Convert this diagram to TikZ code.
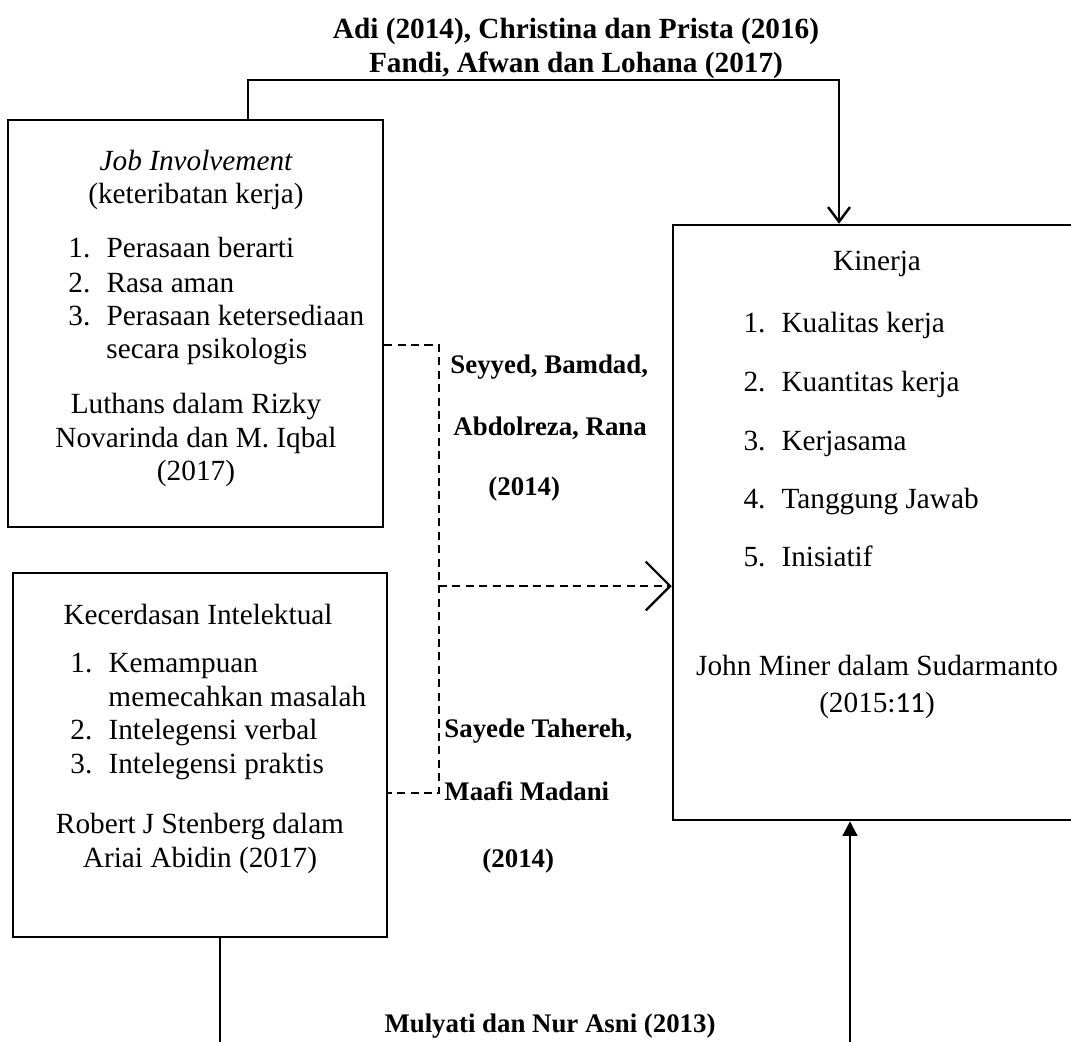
\documentclass[tikz,border=0pt]{standalone}
\usepackage{fontspec}
\setmainfont{Liberation Serif}
\newfontfamily\calibrifont{Carlito}
\usetikzlibrary{arrows.meta}

\newcommand{\numbox}[1]{\makebox[15.6pt][l]{#1}}

\begin{document}
\begin{tikzpicture}[x=0.41pt,y=-0.41pt,
  every node/.style={font=\fontsize{12}{14}\selectfont,inner sep=0pt},
  box/.style={draw,line width=1pt},
  line/.style={anchor=base},
  item/.style={anchor=base west},
  heading/.style={font=\fontsize{12}{14}\selectfont\bfseries},
  citation/.style={font=\fontsize{11}{13}\selectfont\bfseries},
  link/.style={line width=1pt},
  dashlink/.style={line width=0.9pt,dash pattern=on 3.3pt off 2.2pt}
]
\clip (0,0) rectangle (1071,1041);

% boxes
\node[box,minimum width=153.75pt,minimum height=166.9pt] (JobBox) at (195.5,323.5) {};
\node[box,minimum width=153.3pt,minimum height=149.2pt] (IntBox) at (200,755) {};
\node[box,minimum width=166.9pt,minimum height=244pt] (KinBox) at (876.5,522.5) {};

% job involvement
\node[line] (JobTitle) at (196,170) {\itshape Job Involvement};
\node[line] (JobSub) at (196,203) {(keteribatan kerja)};
\node[item] (JobA) at (68,257) {\numbox{1.}Perasaan berarti};
\node[item] (JobB) at (68,292) {\numbox{2.}Rasa aman};
\node[item] (JobC) at (68,325) {\numbox{3.}Perasaan ketersediaan};
\node[item] (JobC2) at (106,358) {secara psikologis};
\node[line] (JobRefA) at (196,413) {Luthans dalam Rizky};
\node[line] (JobRefB) at (196,447) {Novarinda dan M. Iqbal};
\node[line] (JobRefC) at (196,480) {(2017)};

% kecerdasan intelektual
\node[line] (IntTitle) at (198,624) {Kecerdasan Intelektual};
\node[item] (IntA) at (70,672) {\numbox{1.}Kemampuan};
\node[item] (IntA2) at (108,706) {memecahkan masalah};
\node[item] (IntB) at (70,739) {\numbox{2.}Intelegensi verbal};
\node[item] (IntC) at (70,773) {\numbox{3.}Intelegensi praktis};
\node[line] (IntRefA) at (200,833) {Robert J Stenberg dalam};
\node[line] (IntRefB) at (200,867) {Ariai Abidin (2017)};

% kinerja
\node[line] (KinTitle) at (877,270) {Kinerja};
\node[item] (KinA) at (743,332) {\numbox{1.}Kualitas kerja};
\node[item] (KinB) at (743,391) {\numbox{2.}Kuantitas kerja};
\node[item] (KinC) at (743,450) {\numbox{3.}Kerjasama};
\node[item] (KinD) at (743,508) {\numbox{4.}Tanggung Jawab};
\node[item] (KinE) at (743,566) {\numbox{5.}Inisiatif};
\node[line] (KinRefA) at (877,675) {John Miner dalam Sudarmanto};
\node[line] (KinRefB) at (877,712) {(2015{\calibrifont :11})};

% citations
\node[line,heading] (TopCiteA) at (576,38) {Adi (2014), Christina dan Prista (2016)};
\node[line,heading] (TopCiteB) at (576,72) {Fandi, Afwan dan Lohana (2017)};
\node[item,citation] (MidCiteA) at (450,373) {Seyyed, Bamdad,};
\node[item,citation] (MidCiteB) at (453,435) {Abdolreza, Rana};
\node[item,citation] (MidCiteC) at (488,495) {(2014)};
\node[item,citation] (LowCiteA) at (444,737) {Sayede Tahereh,};
\node[item,citation] (LowCiteB) at (444,800) {Maafi Madani};
\node[item,citation] (LowCiteC) at (482,867) {(2014)};
\node[line,citation] (BotCite) at (550,1032) {Mulyati dan Nur Asni (2013)};

% connectors
\coordinate (TopLeft) at (248,80);
\coordinate (TopRight) at (839,80);
\draw[link,-{Straight Barb[length=6pt,width=9pt]}]
  (TopLeft |- JobBox.north) -- (TopLeft) -- (TopRight) -- (TopRight |- KinBox.north);

\coordinate (DashTop) at (439,345);
\coordinate (DashMid) at (439,586);
\coordinate (DashBot) at (439,793);
\draw[dashlink] (JobBox.east |- DashTop) -- (DashTop) -- (DashBot) -- (IntBox.east |- DashBot);
\draw[dashlink,-{Straight Barb[length=10pt,width=20pt]}] (DashMid) -- (DashMid -| KinBox.west);

\coordinate (BotLeft) at (220,1050);
\coordinate (BotRight) at (850,1050);
\draw[link] (IntBox.south -| BotLeft) -- (BotLeft);
\draw[link,-{Triangle[length=6pt,width=6pt]}] (BotRight) -- (BotRight |- KinBox.south);
\end{tikzpicture}
\end{document}
